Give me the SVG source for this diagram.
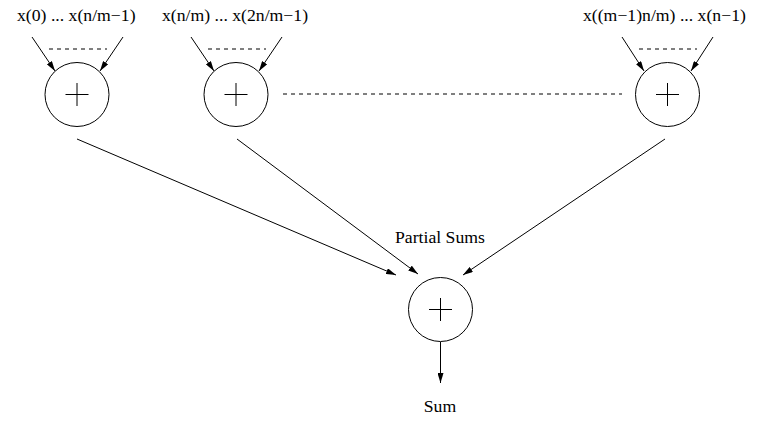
<svg xmlns="http://www.w3.org/2000/svg" width="757" height="424" viewBox="0 0 757 424">
<defs>
<marker id="ah" viewBox="0 0 10 6" refX="10" refY="3" markerWidth="10" markerHeight="6" markerUnits="userSpaceOnUse" orient="auto">
<path d="M0,0 L10,3 L0,6 Z" fill="#000"/>
</marker>
</defs>
<style>
.n{fill:#fff;stroke:#000;stroke-width:1}
.p{stroke:#000;stroke-width:1;fill:none}
.c{stroke:#000;stroke-width:1;fill:none;marker-end:url(#ah)}
.d{stroke:#000;stroke-width:1;stroke-dasharray:4,4;fill:none}
text{font-family:"Liberation Serif","Times New Roman",serif;font-size:17.7px;fill:#000}
</style>
<rect width="757" height="424" fill="#fff"/>
<g id="connectors">
<line class="c" x1="32" y1="37" x2="55" y2="71"/>
<line class="c" x1="123" y1="37" x2="100" y2="71"/>
<line class="d" x1="49" y1="49" x2="107" y2="49"/>
<line class="c" x1="191" y1="37" x2="214" y2="71"/>
<line class="c" x1="282" y1="37" x2="259" y2="71"/>
<line class="d" x1="208" y1="49" x2="266" y2="49"/>
<line class="c" x1="622" y1="37" x2="644" y2="71"/>
<line class="c" x1="713" y1="37" x2="691" y2="71"/>
<line class="d" x1="639" y1="49" x2="697" y2="49"/>
<line class="d" x1="283" y1="94" x2="622" y2="94"/>
<line class="c" x1="77" y1="139" x2="396" y2="275"/>
<line class="c" x1="237" y1="139" x2="418" y2="274"/>
<line class="c" x1="665" y1="139" x2="463" y2="275"/>
<line class="c" x1="440.5" y1="342" x2="440.5" y2="383"/>
</g>
<g id="node1">
<circle class="n" cx="77" cy="94.5" r="32"/>
<path class="p" d="M65.5,94.5 H88.5 M77,83 V106"/>
<text x="17" y="21">x(0) ... x(n/m−1)</text>
</g>
<g id="node2">
<circle class="n" cx="236" cy="94.5" r="32"/>
<path class="p" d="M224.5,94.5 H247.5 M236,83 V106"/>
<text x="162" y="21">x(n/m) ... x(2n/m−1)</text>
</g>
<g id="node3">
<circle class="n" cx="667.5" cy="94.5" r="32"/>
<path class="p" d="M656,94.5 H679 M667.5,83 V106"/>
<text x="583" y="21">x((m−1)n/m) ... x(n−1)</text>
</g>
<g id="node4">
<circle class="n" cx="440.5" cy="309.5" r="32"/>
<path class="p" d="M429,309.5 H452 M440.5,298 V321"/>
</g>
<g id="labels">
<text x="440" y="243" text-anchor="middle">Partial Sums</text>
<text x="440" y="412" text-anchor="middle">Sum</text>
</g>
</svg>
